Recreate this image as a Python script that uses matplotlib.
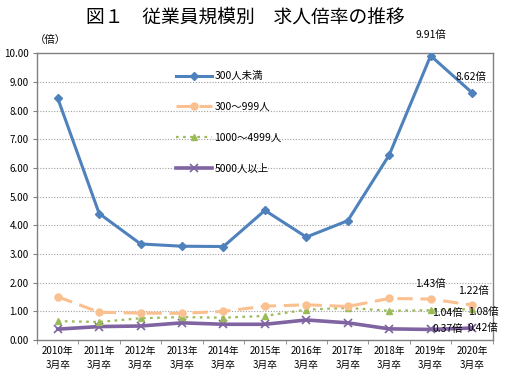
import matplotlib
matplotlib.use("Agg")
import matplotlib.pyplot as plt
import numpy as np

plt.rcParams['font.family'] = ['Noto Sans CJK JP', 'DejaVu Sans']

years = ["2010年\n3月卒", "2011年\n3月卒", "2012年\n3月卒", "2013年\n3月卒", "2014年\n3月卒",
         "2015年\n3月卒", "2016年\n3月卒", "2017年\n3月卒", "2018年\n3月卒", "2019年\n3月卒", "2020年\n3月卒"]
s_under300 = [8.43, 4.41, 3.35, 3.27, 3.26, 4.52, 3.59, 4.16, 6.45, 9.91, 8.62]
s_300_999 = [1.51, 0.97, 0.94, 0.93, 1.00, 1.18, 1.23, 1.17, 1.45, 1.43, 1.22]
s_1000_4999 = [0.66, 0.63, 0.76, 0.80, 0.78, 0.84, 1.06, 1.12, 1.02, 1.04, 1.08]
s_5000 = [0.38, 0.47, 0.49, 0.60, 0.55, 0.55, 0.70, 0.60, 0.39, 0.37, 0.42]
labels = ["300人未満", "300～999人", "1000～4999人", "5000人以上"]

fig = plt.figure(figsize=(5.07, 3.77), dpi=100)
ax = fig.add_axes([0.073, 0.098, 0.899, 0.761])
x = np.arange(len(years))

l1, = ax.plot(x, s_under300, color='#4F81BD', lw=2.2, marker='D', ms=4.5, zorder=5, label=labels[0])
l2, = ax.plot(x, s_300_999, color='#FAC090', lw=2.2, ls=(0, (5, 2.5)), marker='o', ms=5, zorder=4, label=labels[1])
l3, = ax.plot(x, s_1000_4999, color='#9BBB59', lw=1.6, ls=(0, (1.2, 2)), marker='^', ms=5, zorder=3, label=labels[2])
l4, = ax.plot(x, s_5000, color='#8064A2', lw=2.6, marker='x', ms=6, mew=1.2, zorder=2, label=labels[3])

ax.set_xlim(-0.5, len(years) - 0.5)
ax.set_ylim(0, 10)
ax.set_yticks(np.arange(0, 10.01, 1))
ax.set_yticklabels([f"{v:.2f}" for v in np.arange(0, 10.01, 1)], fontsize=7)
ax.set_xticks(x)
ax.set_xticklabels(years, fontsize=7, linespacing=1.5)
ax.set_xticks(np.arange(-0.5, len(years), 1), minor=True)
ax.tick_params(axis='x', which='major', length=0, pad=4)
ax.tick_params(axis='x', which='minor', length=3, color='#808080')
ax.tick_params(axis='y', length=3, color='#808080', pad=3)
for yv in range(1, 10):
    ax.axhline(yv, color='#A0A0A0', lw=0.8, ls=(0, (1, 1.5)), zorder=1)
for sp in ax.spines.values():
    sp.set_color('#808080')
    sp.set_linewidth(1.0)

def lab(i, series, dx, dy):
    ax.annotate(f"{series[i]:.2f}倍", (x[i], series[i]), xytext=(dx, dy),
                textcoords='offset pixels', ha='center', va='center', fontsize=7.5,
                annotation_clip=False, zorder=6)

lab(9, s_under300, 0, 21)
lab(10, s_under300, -1, 16)
lab(9, s_300_999, 0, 15)
lab(10, s_300_999, 1, 14)
lab(9, s_1000_4999, 17, -3)
lab(10, s_1000_4999, 11, -3)
lab(9, s_5000, 17, 0)
lab(10, s_5000, 11, 0)

ax.text(0.03, 1.045, "（倍）", transform=ax.transAxes, fontsize=7.5, ha='center', va='center')

ax.legend(handles=[l1, l2, l3, l4], loc='upper left', bbox_to_anchor=(0.285, 0.97),
          frameon=False, fontsize=7.5, handlelength=3.4, labelspacing=2.0, handletextpad=0.25)

fig.text(0.483, 0.955, "図１　従業員規模別　求人倍率の推移", ha='center', va='center', fontsize=13.5)

fig.savefig("out.png", dpi=100)
